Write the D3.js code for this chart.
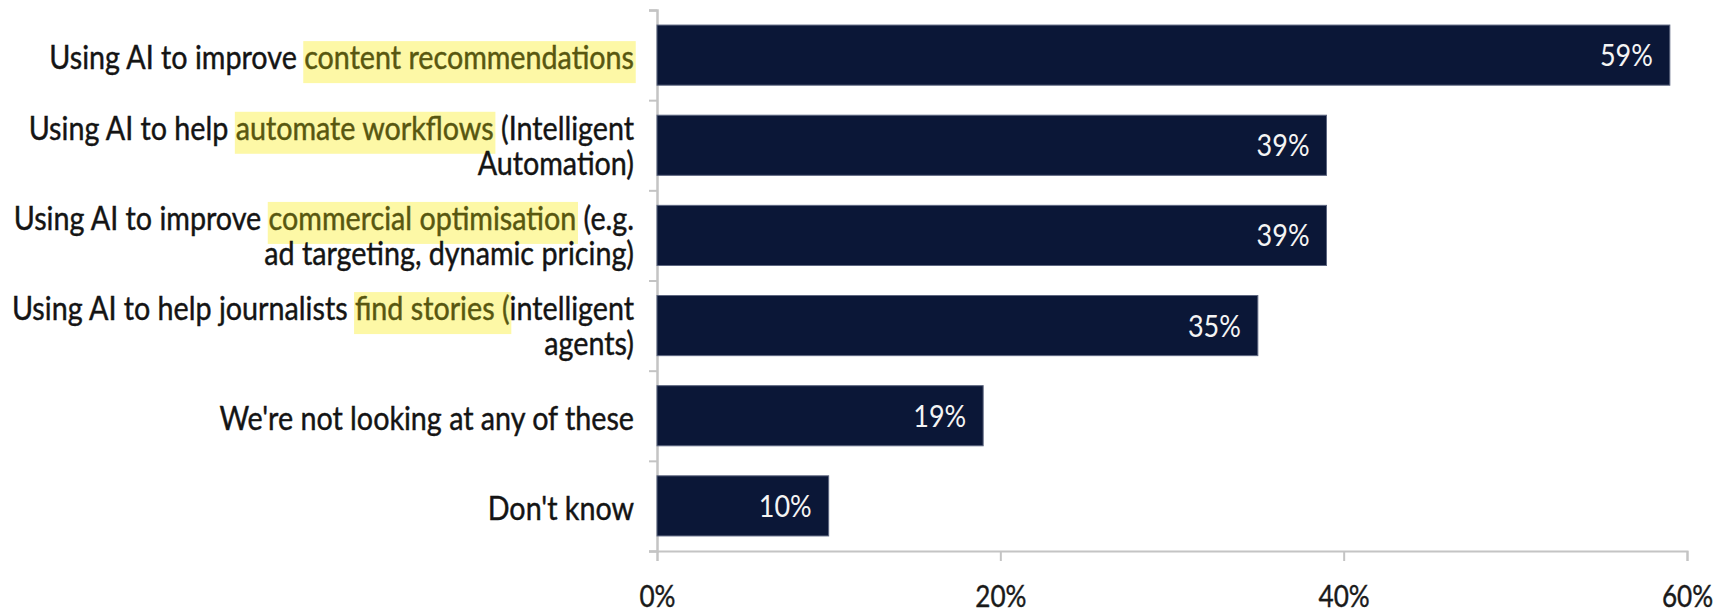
<!DOCTYPE html>
<html lang="en">
<head>
    <meta charset="UTF-8">
    <title>AI uses</title>
    <script src="https://cdn.jsdelivr.net/npm/d3@7"></script>
    <style>
        body { margin: 0; background: #fff; }
        text { font-family: Lato, "Open Sans", sans-serif; }
    </style>
</head>
<body>
    <script>
        // each label: list of lines, each line a list of [text, highlighted]
        let labels = [
            [[['Using AI to improve ', 0], ['content recommendations ', 1]]],
            [[['Using AI to help ', 0], ['automate workflows', 1], [' (Intelligent', 0]], [['Automation)', 0]]],
            [[['Using AI to improve ', 0], ['commercial optimisation', 1], [' (e.g.', 0]], [['ad targeting, dynamic pricing)', 0]]],
            [[['Using AI to help journalists ', 0], ['find stories (', 1], ['intelligent', 0]], [['agents)', 0]]],
            [[["We're not looking at any of these", 0]]],
            [[["Don't know", 0]]]
        ];
        let values = [59, 39, 39, 35, 19, 10];
        let ticks = [0, 20, 40, 60];

        let width = 1719,
            height = 614,
            margin = { top: 10, left: 657, right: 32, bottom: 63 };
        let sx = 0.87; // the source chart is squeezed sideways

        let svg = d3.select('body').append('svg').attr('width', width).attr('height', height);

        let x = d3.scaleLinear().domain([0, 60]).range([margin.left, width - margin.right]);
        let y = d3.scaleBand().domain(d3.range(values.length))
            .range([margin.top, height - margin.bottom])
            .paddingInner(0.333).paddingOuter(0.167);
        let yEdge = d3.scaleLinear().domain([0, values.length]).range([margin.top, height - margin.bottom]);

        // axes
        svg.append('g').attr('transform', `translate(${margin.left},0)`)
            .call(d3.axisLeft(yEdge).tickValues(d3.range(values.length + 1)).tickSize(8).tickFormat(''));
        let xAxis = svg.append('g').attr('transform', `translate(0,${height - margin.bottom})`)
            .call(d3.axisBottom(x).tickValues(ticks).tickSize(10).tickFormat(''));
        svg.selectAll('.domain, .tick line').attr('stroke', '#c4c4c4').attr('stroke-width', 2);
        svg.select('.domain').attr('stroke-width', 2.5);

        xAxis.selectAll('.tick').append('text')
            .attr('transform', `translate(0,56) scale(${sx},1)`)
            .attr('text-anchor', 'middle')
            .attr('font-size', 30)
            .attr('fill', '#1a1a1a')
            .attr('stroke', '#1a1a1a').attr('stroke-width', 0.4)
            .text(d => d + '%');

        // bars
        svg.append('g').selectAll('rect').data(values).join('rect')
            .attr('x', x(0))
            .attr('y', (d, i) => y(i))
            .attr('width', d => x(d) - x(0))
            .attr('height', y.bandwidth())
            .attr('fill', '#0b1737')
            .attr('stroke', '#5d6680')
            .attr('stroke-width', 1);

        svg.append('g').selectAll('text').data(values).join('text')
            .attr('transform', (d, i) => `translate(${x(d) - 17},${y(i) + y.bandwidth() / 2 + 11}) scale(${sx},1)`)
            .attr('text-anchor', 'end')
            .attr('fill', '#f4f4f4')
            .attr('font-size', 31)
            .text(d => d + '%');

        // category labels with highlighted parts
        let fs = 33, lh = 35;
        labels.forEach((lines, i) => {
            let cy = y(i) + y.bandwidth() / 2;
            let base = lines.length > 1 ? cy + 12 : cy + 14;
            lines.forEach((segs, j) => {
                let ly = base + (j - (lines.length - 1) / 2) * lh;
                let g = svg.append('g')
                    .attr('transform', `translate(${margin.left - 23},${ly}) scale(${sx},1)`);
                let hl = g.append('g');
                let t = g.append('text')
                    .attr('text-anchor', 'end')
                    .attr('font-size', fs)
                    .attr('stroke-width', 0.45);
                segs.forEach(s => {
                    let c = s[1] ? '#585710' : '#141414';
                    t.append('tspan').text(s[0]).attr('fill', c).attr('stroke', c)
                        .classed('hl', !!s[1]);
                });
                t.selectAll('tspan.hl').each(function () {
                    let start = this.getStartPositionOfChar(0).x;
                    let len = this.getComputedTextLength();
                    hl.append('rect')
                        .attr('x', start - 1)
                        .attr('y', -28)
                        .attr('width', len + 3)
                        .attr('height', 42)
                        .attr('fill', '#fdf8a6');
                });
            });
        });
    </script>
</body>
</html>
